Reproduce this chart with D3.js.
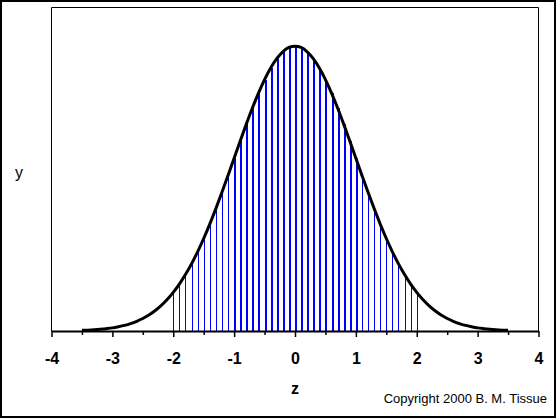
<!DOCTYPE html>
<html>
<head>
<meta charset="utf-8">
<script src="https://cdn.jsdelivr.net/npm/d3@7"></script>
<style>
  body { margin: 0; background: #fff; }
  svg { display: block; font-family: "Liberation Sans", Arial, sans-serif; }
</style>
</head>
<body>
<div id="chart"></div>
<script>
// curve points (z, y)
var zVals = [-3.5, -3.4, -3.3, -3.2, -3.1, -3.0, -2.9, -2.8, -2.7, -2.6, -2.5, -2.4, -2.3, -2.2, -2.1,
  -2.0, -1.9, -1.8, -1.7, -1.6, -1.5, -1.4, -1.3, -1.2, -1.1, -1.0, -0.9, -0.8, -0.7, -0.6, -0.5,
  -0.4, -0.3, -0.2, -0.1, 0.0, 0.1, 0.2, 0.3, 0.4, 0.5, 0.6, 0.7, 0.8, 0.9, 1.0, 1.1, 1.2, 1.3,
  1.4, 1.5, 1.6, 1.7, 1.8, 1.9, 2.0, 2.1, 2.2, 2.3, 2.4, 2.5, 2.6, 2.7, 2.8, 2.9, 3.0, 3.1, 3.2,
  3.3, 3.4, 3.5];
var yVals = [0.0009, 0.0012, 0.0017, 0.0024, 0.0033, 0.0044, 0.0060, 0.0079, 0.0104, 0.0136, 0.0175,
  0.0224, 0.0283, 0.0355, 0.0440, 0.0540, 0.0656, 0.0790, 0.0940, 0.1109, 0.1295, 0.1497, 0.1714,
  0.1942, 0.2179, 0.2420, 0.2661, 0.2897, 0.3123, 0.3332, 0.3521, 0.3683, 0.3814, 0.3910, 0.3970,
  0.3989, 0.3970, 0.3910, 0.3814, 0.3683, 0.3521, 0.3332, 0.3123, 0.2897, 0.2661, 0.2420, 0.2179,
  0.1942, 0.1714, 0.1497, 0.1295, 0.1109, 0.0940, 0.0790, 0.0656, 0.0540, 0.0440, 0.0355, 0.0283,
  0.0224, 0.0175, 0.0136, 0.0104, 0.0079, 0.0060, 0.0044, 0.0033, 0.0024, 0.0017, 0.0012, 0.0009];
var majorTicks = [-4, -3, -2, -1, 0, 1, 2, 3, 4];
var minorTicks = [-3.5, -2.5, -1.5, -0.5, 0.5, 1.5, 2.5, 3.5];
var lineRange = [-2, 2];   // vertical lines drawn here
var thickRange = [-1, 1];  // thicker lines here

var width = 556, height = 418;
var plot = { left: 51.5, right: 538.5, top: 7.5, bottom: 331 };

var svg = d3.select("#chart").append("svg")
  .attr("width", width)
  .attr("height", height);

// outer border
svg.append("rect")
  .attr("x", 1).attr("y", 1)
  .attr("width", width - 2).attr("height", height - 2)
  .attr("fill", "none").attr("stroke", "#000").attr("stroke-width", 2);

var x = d3.scaleLinear().domain([-4, 4]).range([plot.left, plot.right]);
var y = d3.scaleLinear().domain([0, 0.453]).range([plot.bottom, plot.top]);

var data = zVals.map(function(z, i) { return { z: z, y: yVals[i] }; });

// frame (top, left, right)
svg.append("path")
  .attr("d", "M" + plot.left + "," + plot.bottom + "V" + plot.top + "H" + plot.right + "V" + (plot.bottom + 1))
  .attr("fill", "none").attr("stroke", "#000").attr("stroke-width", 1);

// vertical lines under the curve
var lines = data.filter(function(d) { return d.z >= lineRange[0] - 1e-6 && d.z <= lineRange[1] + 1e-6; });
svg.selectAll(".vline")
  .data(lines)
  .enter()
  .append("line")
  .attr("class", "vline")
  .attr("x1", function(d) { return Math.round(x(d.z)) + 0.5; })
  .attr("x2", function(d) { return Math.round(x(d.z)) + 0.5; })
  .attr("y1", plot.bottom)
  .attr("y2", function(d) { return y(d.y); })
  .attr("stroke", "#0000ff")
  .attr("shape-rendering", "crispEdges")
  .attr("stroke-width", function(d) {
    return (d.z >= thickRange[0] - 1e-6 && d.z <= thickRange[1] + 1e-6) ? 2 : 1;
  });

// x axis: major + minor ticks
var xAxisMajor = svg.append("g")
  .attr("transform", "translate(0," + plot.bottom + ")")
  .call(d3.axisBottom(x).tickValues(majorTicks).tickSize(6).tickSizeOuter(0)
    .tickFormat(function(d) { return String(d); }));
xAxisMajor.select(".domain").attr("stroke-width", 2);
xAxisMajor.selectAll(".tick line").attr("stroke-width", 1.5);
xAxisMajor.selectAll("text")
  .attr("y", 0).attr("dy", 0)
  .attr("transform", "translate(0,33)")
  .style("font-size", "16px")
  .style("font-weight", "bold")
  .style("font-family", "Liberation Sans, Arial, sans-serif")
  .attr("fill", "#000");

var xAxisMinor = svg.append("g")
  .attr("transform", "translate(0," + plot.bottom + ")")
  .call(d3.axisBottom(x).tickValues(minorTicks).tickSize(4).tickFormat(""));
xAxisMinor.select(".domain").remove();
xAxisMinor.selectAll(".tick line").attr("stroke-width", 1.5);

// curve
var line = d3.line()
  .x(function(d) { return x(d.z); })
  .y(function(d) { return y(d.y); })
  .curve(d3.curveMonotoneX);
svg.append("path")
  .datum(data)
  .attr("d", line)
  .attr("fill", "none")
  .attr("stroke", "#000")
  .attr("stroke-width", 3);

// labels
svg.append("text")
  .attr("x", x(0)).attr("y", 394)
  .attr("text-anchor", "middle")
  .style("font-size", "16px").style("font-weight", "bold")
  .text("z");

svg.append("text")
  .attr("x", 19).attr("y", 178)
  .attr("text-anchor", "middle")
  .style("font-size", "16px")
  .text("y");

svg.append("text")
  .attr("x", 547).attr("y", 403)
  .attr("text-anchor", "end")
  .style("font-size", "13px")
  .text("Copyright 2000 B. M. Tissue");
</script>
</body>
</html>
